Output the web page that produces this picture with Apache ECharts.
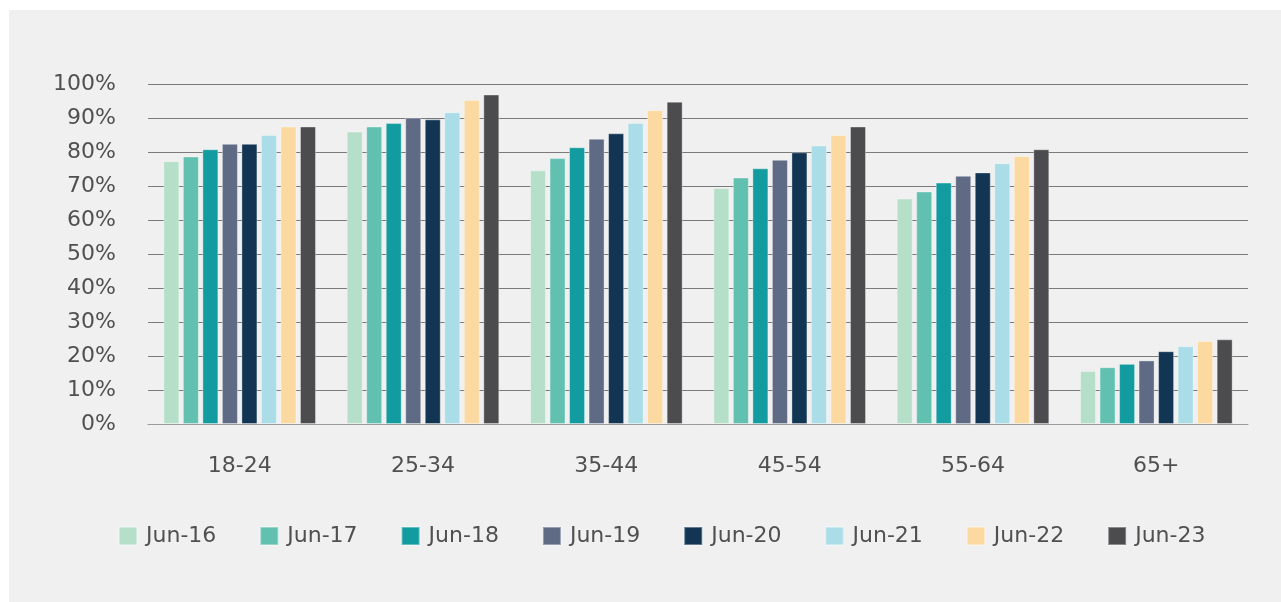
<!DOCTYPE html>
<html>
<head>
<meta charset="utf-8">
<script src="https://cdn.jsdelivr.net/npm/echarts@6/dist/echarts.min.js"></script>
<style>
  html, body { margin: 0; padding: 0; background: #ffffff; }
  #panel { position: absolute; left: 9px; top: 10px; right: 0; bottom: 0; background: #f0f0f0; }
  #chart { position: absolute; left: 0; top: 0; width: 1281px; height: 602px; }
</style>
</head>
<body>
<div id="panel"></div>
<div id="chart"></div>
<script>
// Age groups on the category axis
const ageGroups = ['18-24', '25-34', '35-44', '45-54', '55-64', '65+'];

// Share of each age group (%) at each June reading
const jun16 = [77.3, 86.0, 74.6, 69.4, 66.3, 15.6];
const jun17 = [78.7, 87.5, 78.2, 72.5, 68.4, 16.7];
const jun18 = [80.8, 88.5, 81.4, 75.2, 71.0, 17.7];
const jun19 = [82.4, 90.1, 83.9, 77.7, 73.0, 18.7];
const jun20 = [82.4, 89.6, 85.5, 79.9, 74.0, 21.4];
const jun21 = [85.0, 91.7, 88.5, 81.9, 76.7, 22.9];
const jun22 = [87.5, 95.3, 92.3, 85.0, 78.8, 24.4];
const jun23 = [87.5, 96.9, 94.8, 87.5, 80.8, 24.9];

const seriesNames = ['Jun-16', 'Jun-17', 'Jun-18', 'Jun-19', 'Jun-20', 'Jun-21', 'Jun-22', 'Jun-23'];
const seriesValues = [jun16, jun17, jun18, jun19, jun20, jun21, jun22, jun23];
const palette = ['#b5dfc9', '#62c0b1', '#129ca0', '#5f6a84', '#123553', '#aadde7', '#fbd9a0', '#4c4c4e'];

const FONT = 'DejaVu Sans';
const TEXT = '#505050';
const SIZE = 22;

const chart = echarts.init(document.getElementById('chart'), null, { renderer: 'canvas' });

chart.setOption({
  backgroundColor: 'transparent',
  animation: false,
  color: palette,
  grid: { left: 148, right: 33, top: 84, bottom: 178, containLabel: false },
  legend: {
    left: 118,
    top: 525,
    padding: 0,
    itemWidth: 18,
    itemHeight: 18,
    itemGap: 43,
    icon: 'rect',
    textStyle: { fontFamily: FONT, fontSize: SIZE, color: TEXT, padding: [0, 0, 0, 4] },
    data: seriesNames
  },
  xAxis: {
    type: 'category',
    data: ageGroups,
    axisLine: { show: true, lineStyle: { color: '#9a9a9a', width: 1 } },
    axisTick: { show: false },
    axisLabel: { fontFamily: FONT, fontSize: SIZE, color: TEXT, margin: 31 }
  },
  yAxis: {
    type: 'value',
    min: 0,
    max: 100,
    interval: 10,
    axisLine: { show: false },
    axisTick: { show: false },
    splitLine: { lineStyle: { color: '#7a7a7a', width: 1 } },
    axisLabel: {
      fontFamily: FONT, fontSize: SIZE, color: TEXT, margin: 32,
      formatter: v => v + '%'
    }
  },
  series: seriesNames.map((name, i) => ({
    name,
    type: 'bar',
    data: seriesValues[i],
    barWidth: 16,
    barGap: '22%',
    itemStyle: { borderColor: 'rgba(255,255,255,0.35)', borderWidth: 1 }
  }))
});
</script>
</body>
</html>
